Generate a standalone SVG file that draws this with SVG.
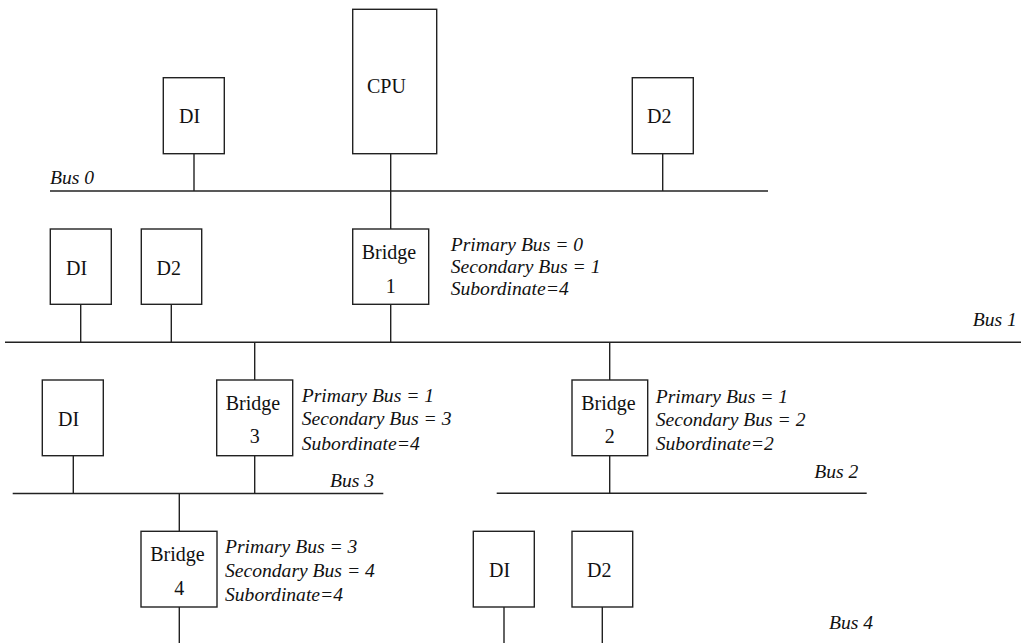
<svg xmlns="http://www.w3.org/2000/svg" width="1021" height="643" viewBox="0 0 1021 643">
<style>
.box{fill:#fff;stroke:#222;stroke-width:1.4}
.ln{stroke:#222;stroke-width:1.4;fill:none}
.t{font-family:'Liberation Serif','Times New Roman',serif;font-size:20px;fill:#111}
.i{font-family:'Liberation Serif','Times New Roman',serif;font-size:19.6px;font-style:italic;fill:#111}
.c{text-anchor:middle}
</style>
<rect width="1021" height="643" fill="#fff"/>
<g id="connectors">
<line class="ln" x1="50" y1="191" x2="768" y2="191"/>
<line class="ln" x1="194" y1="154" x2="194" y2="191"/>
<line class="ln" x1="390.7" y1="154" x2="390.7" y2="229"/>
<line class="ln" x1="662.7" y1="154" x2="662.7" y2="191"/>
<line class="ln" x1="5" y1="342.3" x2="1021" y2="342.3"/>
<line class="ln" x1="80.7" y1="304" x2="80.7" y2="342.3"/>
<line class="ln" x1="171.3" y1="304" x2="171.3" y2="342.3"/>
<line class="ln" x1="390.7" y1="304" x2="390.7" y2="342.3"/>
<line class="ln" x1="254.7" y1="342.3" x2="254.7" y2="380"/>
<line class="ln" x1="609.7" y1="342.3" x2="609.7" y2="380"/>
<line class="ln" x1="12.7" y1="493.5" x2="383.3" y2="493.5"/>
<line class="ln" x1="73.3" y1="455.7" x2="73.3" y2="493.5"/>
<line class="ln" x1="254.7" y1="455.7" x2="254.7" y2="493.5"/>
<line class="ln" x1="179.3" y1="493.5" x2="179.3" y2="531.3"/>
<line class="ln" x1="496.7" y1="493.3" x2="866.7" y2="493.3"/>
<line class="ln" x1="609.7" y1="455.7" x2="609.7" y2="493.3"/>
<line class="ln" x1="179.3" y1="607" x2="179.3" y2="643"/>
<line class="ln" x1="504" y1="607" x2="504" y2="643"/>
<line class="ln" x1="602.3" y1="607" x2="602.3" y2="643"/>
</g>
<g id="bus-labels">
<text class="i" x="50" y="184">Bus 0</text>
<text class="i" x="972.7" y="326">Bus 1</text>
<text class="i" x="330" y="486.7">Bus 3</text>
<text class="i" x="814.3" y="478.3">Bus 2</text>
<text class="i" x="829" y="629.3">Bus 4</text>
</g>
<g id="cpu">
<rect class="box" x="352.7" y="9.3" width="84" height="144.4"/>
<text class="t" x="367" y="93">CPU</text>
</g>
<g id="bus0-d1">
<rect class="box" x="163.3" y="77.7" width="61" height="76"/>
<text class="t" x="179" y="123">DI</text>
</g>
<g id="bus0-d2">
<rect class="box" x="632.3" y="77.7" width="61" height="76"/>
<text class="t" x="647" y="123">D2</text>
</g>
<g id="bus1-d1">
<rect class="box" x="50.3" y="229" width="61" height="75.3"/>
<text class="t" x="66" y="275">DI</text>
</g>
<g id="bus1-d2">
<rect class="box" x="141.3" y="229" width="60.4" height="75.3"/>
<text class="t" x="156.5" y="275">D2</text>
</g>
<g id="bridge1">
<rect class="box" x="352.7" y="229" width="76" height="75.3"/>
<text class="t c" x="389" y="259">Bridge</text>
<text class="t c" x="390.7" y="292.5">1</text>
</g>
<g id="bridge1-info">
<text class="i" x="450.7" y="250.7">Primary Bus = 0</text>
<text class="i" x="450.7" y="273.3">Secondary Bus = 1</text>
<text class="i" x="450.7" y="295">Subordinate=4</text>
</g>
<g id="bus3-d1">
<rect class="box" x="42.3" y="380" width="61" height="75.7"/>
<text class="t" x="58" y="425.5">DI</text>
</g>
<g id="bridge3">
<rect class="box" x="216.7" y="380" width="76" height="75.7"/>
<text class="t c" x="253" y="410">Bridge</text>
<text class="t c" x="254.7" y="443.3">3</text>
</g>
<g id="bridge3-info">
<text class="i" x="301.7" y="402.3">Primary Bus = 1</text>
<text class="i" x="301.7" y="424.5">Secondary Bus = 3</text>
<text class="i" x="301.7" y="450">Subordinate=4</text>
</g>
<g id="bridge2">
<rect class="box" x="572" y="380" width="75.7" height="75.7"/>
<text class="t c" x="608.5" y="410">Bridge</text>
<text class="t c" x="609.7" y="443.3">2</text>
</g>
<g id="bridge2-info">
<text class="i" x="655.7" y="402.7">Primary Bus = 1</text>
<text class="i" x="655.7" y="426">Secondary Bus = 2</text>
<text class="i" x="655.7" y="450">Subordinate=2</text>
</g>
<g id="bridge4">
<rect class="box" x="141" y="531.3" width="76" height="75.7"/>
<text class="t c" x="177.5" y="561.3">Bridge</text>
<text class="t c" x="179.3" y="594.5">4</text>
</g>
<g id="bridge4-info">
<text class="i" x="225" y="553.3">Primary Bus = 3</text>
<text class="i" x="225" y="576.7">Secondary Bus = 4</text>
<text class="i" x="225" y="601">Subordinate=4</text>
</g>
<g id="bus4-d1">
<rect class="box" x="473.3" y="531.3" width="61" height="75.7"/>
<text class="t" x="489" y="577">DI</text>
</g>
<g id="bus4-d2">
<rect class="box" x="572" y="531.3" width="60.7" height="75.7"/>
<text class="t" x="587" y="577">D2</text>
</g>
</svg>
